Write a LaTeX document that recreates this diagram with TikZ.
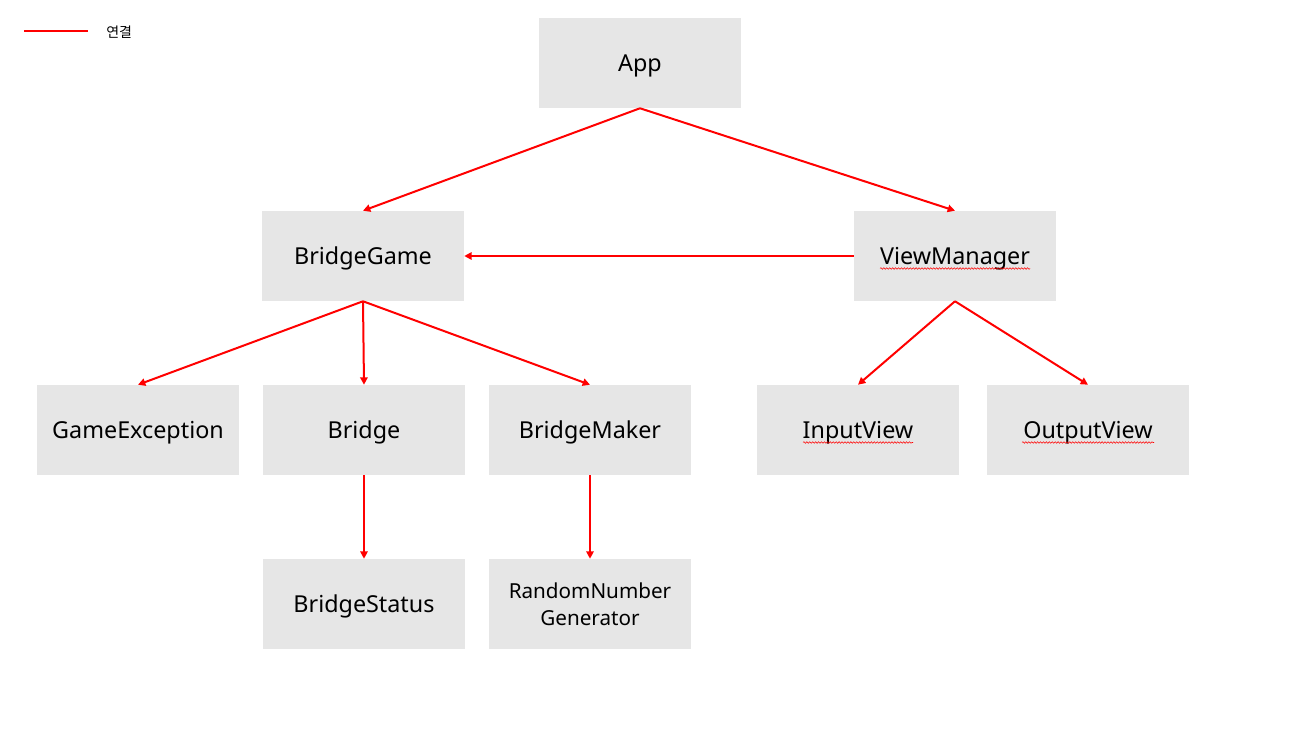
\documentclass[tikz,border=0pt]{standalone}
\usepackage{fontspec}
\setmainfont{Noto Sans}
\newfontfamily\krfont{Noto Sans CJK KR}
\usetikzlibrary{arrows.meta,decorations.pathmorphing}
\definecolor{boxgray}{RGB}{230,230,230}
\definecolor{linered}{RGB}{255,0,0}
\tikzset{
  cls/.style={fill=boxgray, minimum width=151.5pt, minimum height=67.5pt, inner sep=0pt, font=\fontsize{17.5}{20}\selectfont, text=black, text height=16.2pt, text depth=3.2pt},
  clsml/.style={fill=boxgray, minimum width=151.5pt, minimum height=67.5pt, inner sep=0pt, align=center, font=\fontsize{15.5}{20}\selectfont, text=black},
  conn/.style={draw=linered, line width=1.5pt, -{Triangle[length=5.5pt,width=5.5pt]}},
  squig/.style={draw=linered, line width=0.4pt, decorate, decoration={snake, amplitude=0.6pt, segment length=2.2pt}}
}
\begin{document}
\begin{tikzpicture}[x=0.75pt,y=-0.75pt]
\useasboundingbox (0,0) rectangle (1303,731);
\node[cls] (app) at (640,63) {App};
\node[cls] (bg) at (363,256) {BridgeGame};
\node[cls] (vm) at (955,256) {ViewManager};
\node[cls] (ge) at (138,430) {GameException};
\node[cls] (br) at (364,430) {Bridge};
\node[cls] (bm) at (590,430) {BridgeMaker};
\node[cls] (iv) at (858,430) {InputView};
\node[cls] (ov) at (1088,430) {OutputView};
\node[cls] (bs) at (364,604) {BridgeStatus};
\node[clsml] (rng) at (590,604) {RandomNumber\\Generator};

\draw[conn] (app.south) -- (bg.north);
\draw[conn] (app.south) -- (vm.north);
\draw[conn] (vm.west) -- (bg.east);
\draw[conn] (bg.south) -- (ge.north);
\draw[conn] (bg.south) -- (br.north);
\draw[conn] (bg.south) -- (bm.north);
\draw[conn] (vm.south) -- (iv.north);
\draw[conn] (vm.south) -- (ov.north);
\draw[conn] (br.south) -- (bs.north);
\draw[conn] (bm.south) -- (rng.north);

% spell-check underlines
\coordinate (vma) at (880,268.5); \coordinate (vmb) at (1030,268.5);
\draw[squig] (vma) -- (vmb);
\coordinate (iva) at (803,442.5); \coordinate (ivb) at (913,442.5);
\draw[squig] (iva) -- (ivb);
\coordinate (ova) at (1022,442.5); \coordinate (ovb) at (1154,442.5);
\draw[squig] (ova) -- (ovb);

% legend
\coordinate (la) at (24,31); \coordinate (lb) at (88,31);
\draw[draw=linered, line width=2.2pt] (la) -- (lb);
\node[anchor=west, inner sep=0pt, font=\krfont\fontsize{10.5}{12}\selectfont] (legtext) at (106,32) {연결};
\end{tikzpicture}
\end{document}
